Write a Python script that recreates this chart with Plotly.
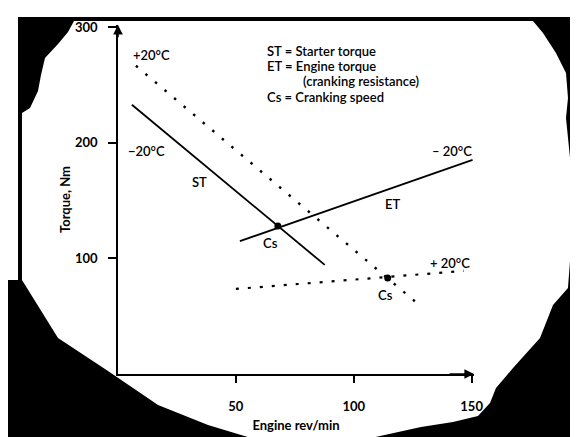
import plotly.graph_objects as go

# ---- data (engine rev/min vs torque, Nm) ----
st_cold_rpm = [5.9, 87.7]
st_cold_torque = [233.0, 94.4]
st_warm_rpm = [7.6, 126.3]
st_warm_torque = [266.7, 62.3]
et_cold_rpm = [51.7, 150.4]
et_cold_torque = [115.0, 185.3]
et_warm_rpm = [50.0, 146.6]
et_warm_torque = [73.6, 89.2]
cs_rpm = [67.8, 114.4]
cs_torque = [128.1, 83.1]

x_ticks = [50, 100, 150]
y_ticks = [100, 200, 300]

label_texts = ["+20°C", "−20°C", "ST", "Cs", "ET", "– 20°C", "+ 20°C", "Cs"]
label_x = [14.4, 11.9, 34.7, 64.8, 116.5, 141.5, 140.7, 113.6]
label_y = [276, 193, 166, 113.4, 147, 193, 96, 68.4]

key_lines = ["ST = Starter torque", "ET = Engine torque",
             "(cranking resistance)", "Cs = Cranking speed"]
key_x = [62.3, 62.3, 77.5, 62.3]
key_y = [279.7, 266.7, 253.7, 239.8]

FONT = "Lato"
W, H = 578, 437
ML, MR, MT, MB = 110, 112, 17, 71

fig = go.Figure()

solid = dict(color="black", width=1.8)
dotted = dict(color="black", width=2.4, dash="2.5px,10px")

fig.add_trace(go.Scatter(x=st_cold_rpm, y=st_cold_torque, mode="lines", line=solid))
fig.add_trace(go.Scatter(x=et_cold_rpm, y=et_cold_torque, mode="lines", line=solid))
fig.add_trace(go.Scatter(x=st_warm_rpm, y=st_warm_torque, mode="lines", line=dotted))
fig.add_trace(go.Scatter(x=et_warm_rpm, y=et_warm_torque, mode="lines",
                         line=dict(color="black", width=2.2, dash="3px,9px")))
fig.add_trace(go.Scatter(x=cs_rpm, y=cs_torque, mode="markers",
                         marker=dict(color="black", size=7)))

# curve labels
for t, x, y in zip(label_texts, label_x, label_y):
    fig.add_annotation(x=x, y=y, text=t, showarrow=False,
                       font=dict(family=FONT, size=13, color="black", weight=600))

# key text
for t, x, y in zip(key_lines, key_x, key_y):
    fig.add_annotation(x=x, y=y, text=t, showarrow=False, xanchor="left",
                       font=dict(family=FONT, size=13, color="black", weight=600))

# axis arrows
fig.add_annotation(x=151, y=0, ax=140, ay=0, axref="x", ayref="y", xref="x", yref="y",
                   showarrow=True, arrowhead=2, arrowsize=1.2, arrowwidth=1.6,
                   arrowcolor="black", text="")
fig.add_annotation(x=0, y=302, ax=0, ay=290, axref="x", ayref="y", xref="x", yref="y",
                   showarrow=True, arrowhead=2, arrowsize=1.2, arrowwidth=1.6,
                   arrowcolor="black", text="")

# scanned-page vignette: black surround with white page area
def px(p):
    x, y = p
    return ((x - ML) / (W - ML - MR), (H - MB - y) / (H - MT - MB))

page_outline = [(66, 13), (525, 13), (535, 25), (548, 45), (558, 65), (560, 90),
                (558, 110), (562, 150), (563, 200), (563, 240), (560, 280),
                (545, 297), (532, 330), (505, 360), (488, 380), (482, 395),
                (470, 408), (445, 414), (413, 419), (363, 430), (300, 433),
                (250, 432), (200, 417), (150, 397), (100, 363), (50, 330),
                (14, 272), (14, 105), (22, 100), (30, 83), (33, 67), (37, 50),
                (50, 36), (60, 24)]
pts = [px(p) for p in page_outline]
path = "M " + " L ".join(f"{a:.4f},{b:.4f}" for a, b in pts) + " Z"
fig.add_shape(type="path", path=path, xref="paper", yref="paper",
              fillcolor="white", line=dict(width=0), layer="below")
for (x0, y0, x1, y1) in [(0, 0, 10, 272), (0, 0, W, 9)]:
    a0, b0 = px((x0, y1))
    a1, b1 = px((x1, y0))
    fig.add_shape(type="rect", x0=a0, y0=b0, x1=a1, y1=b1, xref="paper", yref="paper",
                  fillcolor="white", line=dict(width=0), layer="below")

axis_font = dict(family=FONT, size=13, color="black", weight="bold")
fig.update_xaxes(range=[0, 151], tickvals=x_ticks, ticks="outside", ticklen=7,
                 tickwidth=1.5, tickcolor="black", showline=True, linecolor="black",
                 linewidth=1.8, showgrid=False, zeroline=False, tickfont=axis_font,
                 ticklabelstandoff=12,
                 title=dict(text="Engine rev/min", font=axis_font, standoff=8))
fig.update_yaxes(range=[0, 302], tickvals=y_ticks, ticks="outside", ticklen=8,
                 tickwidth=1.5, tickcolor="black", showline=True, linecolor="black",
                 linewidth=1.8, showgrid=False, zeroline=False, tickfont=axis_font,
                 ticklabelstandoff=8,
                 title=dict(text="Torque, Nm", font=axis_font, standoff=1))

fig.update_layout(width=W, height=H, margin=dict(l=ML, r=MR, t=MT, b=MB),
                  paper_bgcolor="black", plot_bgcolor="rgba(0,0,0,0)",
                  showlegend=False, font=dict(family=FONT, color="black"))

fig.write_html("out.html")
